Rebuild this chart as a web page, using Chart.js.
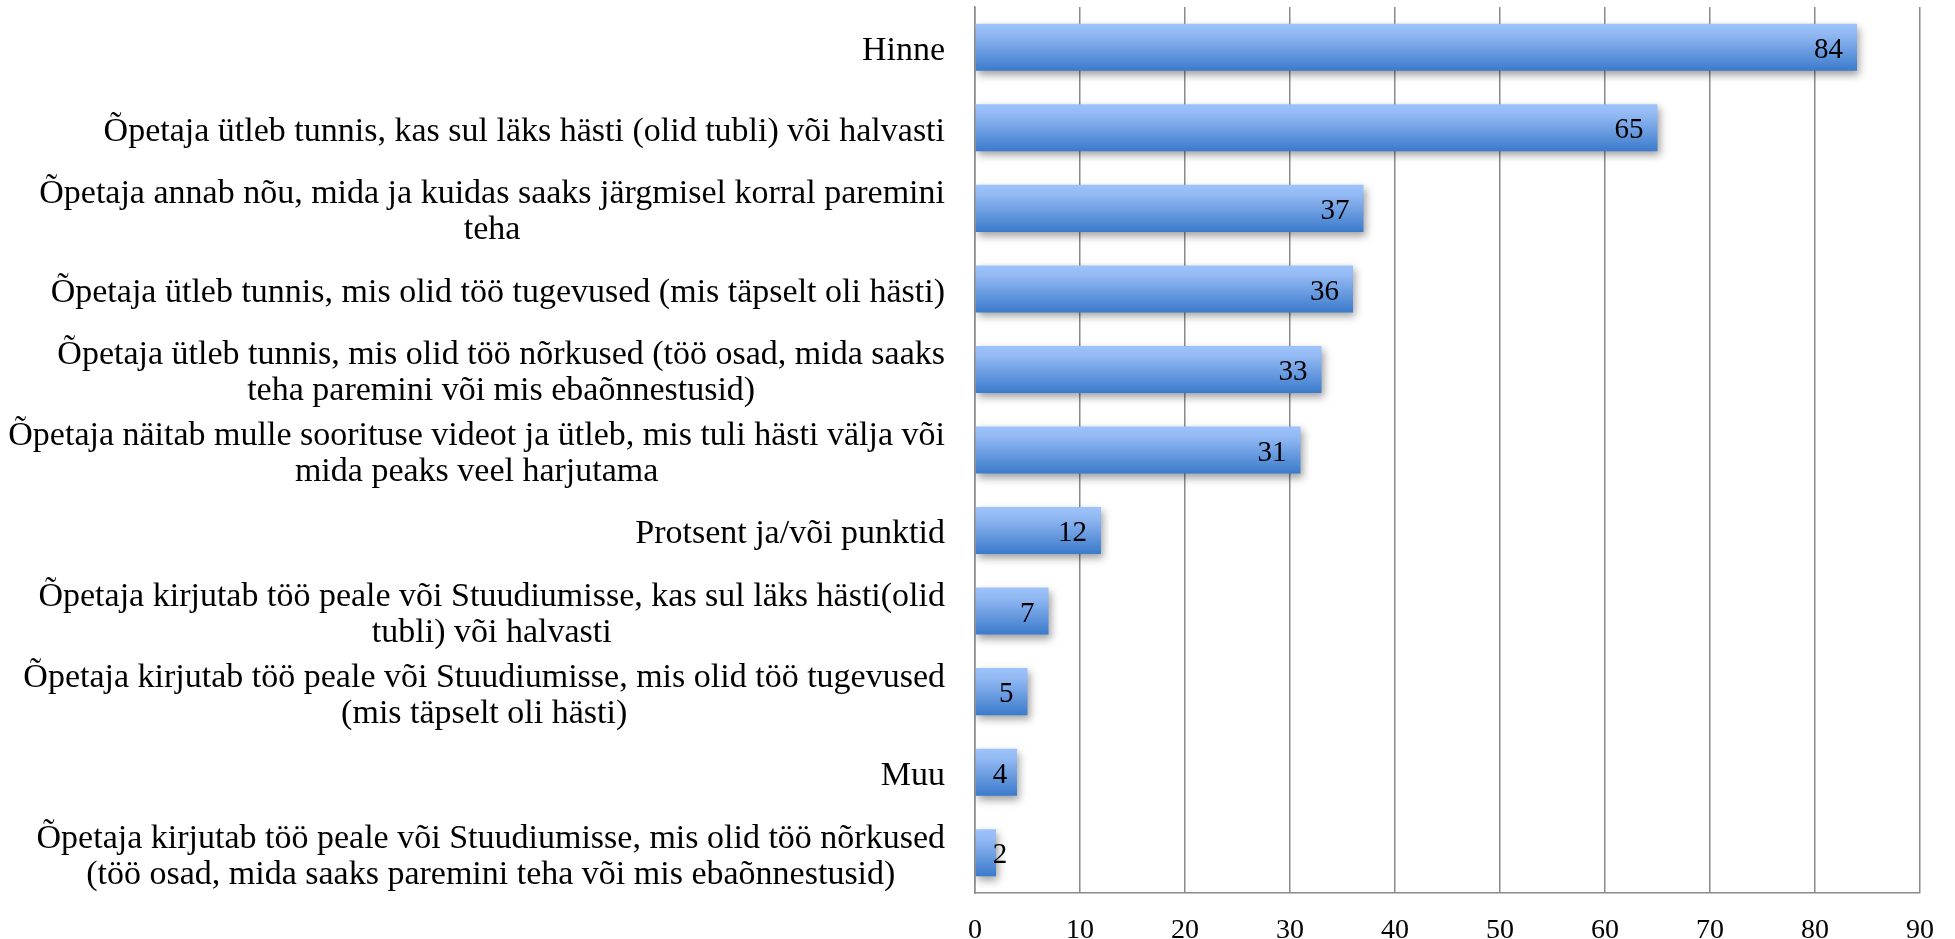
<!DOCTYPE html>
<html>
<head>
<meta charset="utf-8">
<script src="https://cdn.jsdelivr.net/npm/chart.js@4.4.0/dist/chart.umd.min.js"></script>
<style>
  html, body { margin: 0; padding: 0; background: #fff; }
  #wrap { width: 1955px; height: 939px; position: relative; }
</style>
</head>
<body>
<div id="wrap"><canvas id="feedbackChart"></canvas></div>
<script>
// answer options (multi-line ones split where the original wraps)
const categories = [
  ['Hinne'],
  ['Õpetaja ütleb tunnis, kas sul läks hästi (olid tubli) või halvasti'],
  ['Õpetaja annab nõu, mida ja kuidas saaks järgmisel korral paremini', 'teha'],
  ['Õpetaja ütleb tunnis, mis olid töö tugevused (mis täpselt oli hästi)'],
  ['Õpetaja ütleb tunnis, mis olid töö nõrkused (töö osad, mida saaks', 'teha paremini või mis ebaõnnestusid)'],
  ['Õpetaja näitab mulle soorituse videot ja ütleb, mis tuli hästi välja või', 'mida peaks veel harjutama'],
  ['Protsent ja/või punktid'],
  ['Õpetaja kirjutab töö peale või Stuudiumisse, kas sul läks hästi(olid', 'tubli) või halvasti'],
  ['Õpetaja kirjutab töö peale või Stuudiumisse, mis olid töö tugevused', '(mis täpselt oli hästi)'],
  ['Muu'],
  ['Õpetaja kirjutab töö peale või Stuudiumisse, mis olid töö nõrkused', '(töö osad, mida saaks paremini teha või mis ebaõnnestusid)']
];
const counts = [84, 65, 37, 36, 33, 31, 12, 7, 5, 4, 2];
const xTickValues = [0, 10, 20, 30, 40, 50, 60, 70, 80, 90];

const serif = '"Liberation Serif", "DejaVu Serif", serif';
const gridGrey = '#8a8a8a';
const barShare = 0.584;

function barFill(context) {
  const chart = context.chart;
  const area = chart.chartArea;
  if (!area || context.dataIndex === undefined) return '#6a9be0';
  const cy = chart.scales.y.getPixelForValue(context.dataIndex);
  const half = (area.height / categories.length) * barShare / 2;
  const g = chart.ctx.createLinearGradient(0, cy - half, 0, cy + half);
  g.addColorStop(0, '#9dc3fc');
  g.addColorStop(0.2, '#94baf4');
  g.addColorStop(1, '#3b7acb');
  return g;
}

// soft drop shadow under the bars
const shadowPlugin = {
  id: 'barShadow',
  beforeDatasetsDraw(chart) {
    const ctx = chart.ctx;
    ctx.save();
    ctx.shadowColor = 'rgba(0,0,0,0.38)';
    ctx.shadowBlur = 8;
    ctx.shadowOffsetX = 2;
    ctx.shadowOffsetY = 4;
  },
  afterDatasetsDraw(chart) {
    chart.ctx.restore();
  }
};

// category labels (block right aligned, lines centred) + value labels
const labelPlugin = {
  id: 'textLabels',
  afterDraw(chart) {
    const ctx = chart.ctx;
    const yScale = chart.scales.y;
    const area = chart.chartArea;
    ctx.save();
    ctx.fillStyle = '#000';
    ctx.textBaseline = 'middle';
    ctx.textAlign = 'center';
    ctx.font = '34px ' + serif;
    const rightEdge = area.left - 30;
    const lh = 36;
    categories.forEach((lines, i) => {
      const cy = yScale.getPixelForValue(i) + 4;
      const widest = Math.max(...lines.map(l => ctx.measureText(l).width));
      const cx = rightEdge - widest / 2;
      lines.forEach((l, j) => {
        ctx.fillText(l, cx, cy + (j - (lines.length - 1) / 2) * lh);
      });
    });

    ctx.font = '29px ' + serif;
    ctx.textAlign = 'left';
    const meta = chart.getDatasetMeta(0);
    meta.data.forEach((bar, i) => {
      const txt = String(counts[i]);
      const w = ctx.measureText(txt).width;
      let x = bar.x - 14 - w;
      if (x < bar.base + 17) x = bar.base + 17;
      ctx.fillText(txt, x, bar.y + 3);
    });
    ctx.restore();
  }
};

new Chart(document.getElementById('feedbackChart'), {
  type: 'bar',
  data: {
    labels: categories.map(c => c.join(' ')),
    datasets: [{
      data: counts,
      backgroundColor: barFill,
      borderWidth: 0,
      barPercentage: barShare,
      categoryPercentage: 1
    }]
  },
  options: {
    indexAxis: 'y',
    responsive: true,
    maintainAspectRatio: false,
    animation: false,
    layout: { padding: { top: 7, right: 32, left: 0, bottom: 0 } },
    plugins: {
      legend: { display: false },
      tooltip: { enabled: false }
    },
    scales: {
      x: {
        min: xTickValues[0],
        max: xTickValues[xTickValues.length - 1],
        afterBuildTicks(scale) {
          scale.ticks = xTickValues.map(v => ({ value: v }));
        },
        afterFit(scale) { scale.height = 46; },
        grid: { color: gridGrey, lineWidth: 1.5, drawTicks: false },
        border: { color: gridGrey, width: 1.5 },
        ticks: {
          color: '#000',
          padding: 21,
          font: { family: serif, size: 28 }
        }
      },
      y: {
        afterFit(scale) { scale.width = 975; },
        grid: { display: false },
        border: { color: gridGrey, width: 1.5 },
        ticks: { display: false }
      }
    }
  },
  plugins: [shadowPlugin, labelPlugin]
});
</script>
</body>
</html>
